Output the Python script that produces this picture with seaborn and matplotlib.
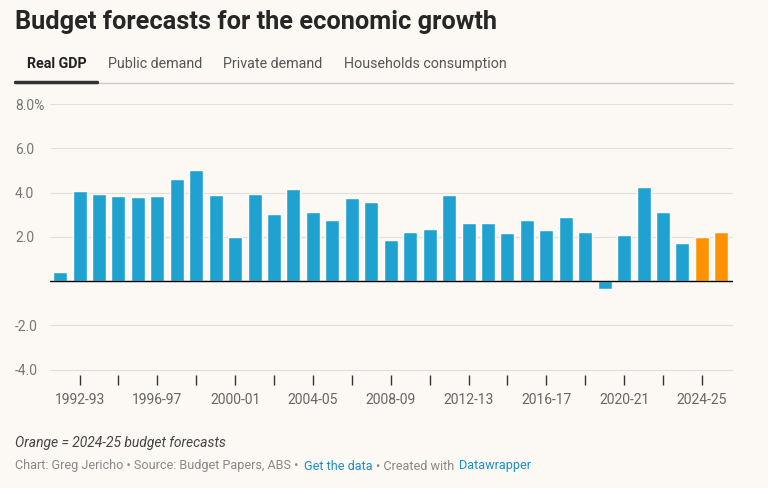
import numpy as np
import pandas as pd
import matplotlib.pyplot as plt
import seaborn as sns
from matplotlib.lines import Line2D

years = [f"{y}-{str(y + 1)[-2:]}" for y in range(1991, 2026)]
growth = [0.4, 4.05, 3.95, 3.85, 3.8, 3.85, 4.6, 5.0, 3.9, 2.0,
          3.95, 3.05, 4.15, 3.1, 2.75, 3.75, 3.55, 1.85, 2.2, 2.35,
          3.9, 2.6, 2.6, 2.15, 2.75, 2.3, 2.9, 2.2, -0.35, 2.1,
          4.25, 3.1, 1.7, 2.0, 2.2]
forecast_years = ["2024-25", "2025-26"]
tabs = ["Real GDP", "Public demand", "Private demand", "Households consumption"]

bg = "#fcf8f4"
df = pd.DataFrame({"year": years, "growth": growth})
colors = ["#ff9200" if y in forecast_years else "#1fa2d0" for y in years]

sns.set_style("white")
plt.rcParams['font.family'] = ['Roboto', 'DejaVu Sans']

fig = plt.figure(figsize=(7.68, 4.88), dpi=100, facecolor=bg)
ax = fig.add_axes([50 / 768, 1 - 385 / 488, 683 / 768, 281 / 488], facecolor=bg)

sns.barplot(data=df, x="year", y="growth", hue="year", palette=colors,
            legend=False, width=0.72, saturation=1, ax=ax)

ax.set_xlim(-0.52, 34.6)
ax.set_ylim(-4.7, 8.0)
ax.set_yticks([-4, -2, 0, 2, 4, 6, 8])
ax.set_yticklabels(["-4.0", "-2.0", "", "2.0", "4.0", "6.0", "8.0%"])
ax.grid(axis='y', color='#e3e0dc', linewidth=0.8)
ax.set_axisbelow(True)
ax.axhline(0, color='black', linewidth=1)
ax.tick_params(axis='y', length=0, pad=25.2, labelsize=10, labelcolor='#777777')
for lbl in ax.get_yticklabels():
    lbl.set_ha('left')

ax.set_xticks(range(1, 35, 2))
ax.set_xticklabels([years[i] if (i - 1) % 4 == 0 else "" for i in range(1, 35, 2)])
ax.tick_params(axis='x', bottom=True, direction='in', length=7, width=1, color='#333333',
               labelsize=10, labelcolor='#666666', pad=6)
ax.set_xlabel("")
ax.set_ylabel("")
for side in ["top", "left", "right", "bottom"]:
    ax.spines[side].set_visible(False)

fig.text(15 / 768, 1 - 22 / 488, "Budget forecasts for the economic growth",
         fontsize=18.3, fontweight='bold', va='center')
xs = [27, 108, 223, 344]
for i, (x, t) in enumerate(zip(xs, tabs)):
    fig.text(x / 768, 1 - 64 / 488, t, fontsize=10.3, va='center',
             color='#222222' if i == 0 else '#555555',
             fontweight='bold' if i == 0 else 'normal')
fig.add_artist(Line2D([15 / 768, 733 / 768], [1 - 83 / 488] * 2, color='#cccccc', lw=1))
fig.add_artist(Line2D([15 / 768, 97 / 768], [1 - 82 / 488] * 2, color='#333333', lw=2.5))

fig.text(15 / 768, 1 - 443 / 488, "Orange = 2024-25 budget forecasts",
         fontsize=10, style='italic', color='#444444', va='center')
credits = [(15, "Chart: Greg Jericho • Source: Budget Papers, ABS •", '#888888'),
           (304, "Get the data", '#1a8fc9'),
           (376, "• Created with", '#888888'),
           (459, "Datawrapper", '#1a8fc9')]
for x, t, c in credits:
    fig.text(x / 768, 1 - 466 / 488, t, fontsize=9.1, color=c, va='center')

plt.savefig("out.png", dpi=100, facecolor=bg)
plt.close()
